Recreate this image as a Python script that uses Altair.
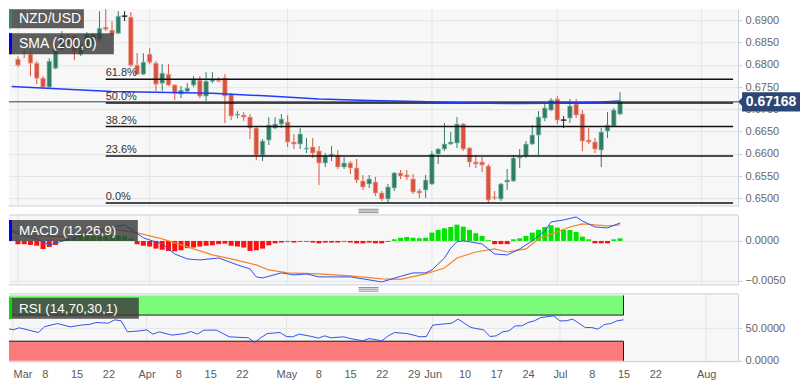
import altair as alt
import pandas as pd

FONT = "Liberation Sans"

# ---------------- data (trading-day index: 0 = Fri 1 Mar 2019) ----------------
day = list(range(97))
op = [
    0.68126, 0.68260, 0.68238, 0.68036, 0.67700, 0.67498, 0.67924, 0.68350, 0.68596, 0.68641,
    0.68238, 0.68372, 0.68462, 0.68574, 0.68843, 0.68776, 0.68709, 0.69090, 0.69067, 0.67991,
    0.67789, 0.68238, 0.68036, 0.67587, 0.67789, 0.67543, 0.67341, 0.67408, 0.67543, 0.67655,
    0.67296, 0.67632, 0.67655, 0.67700, 0.67341, 0.66870, 0.66870, 0.66825, 0.66579, 0.65973,
    0.66310, 0.66579, 0.66668, 0.66713, 0.66265, 0.66220, 0.66108, 0.66153, 0.66063, 0.65794,
    0.65951, 0.65973, 0.65704, 0.65794, 0.65682, 0.65390, 0.65323, 0.65368, 0.65121, 0.64987,
    0.65233, 0.65570, 0.65525, 0.65435, 0.65166, 0.65189, 0.65323, 0.65996, 0.66108, 0.66220,
    0.66243, 0.66668, 0.66130, 0.65816, 0.65816, 0.65727, 0.65032, 0.64987, 0.65368, 0.65390,
    0.65906, 0.65951, 0.66220, 0.66422, 0.66803, 0.66982, 0.67229, 0.66758, 0.66803, 0.67117,
    0.66893, 0.66310, 0.66265, 0.66085, 0.66511, 0.66623, 0.66893,
]
hi = [
    0.68190, 0.68328, 0.68305, 0.68081, 0.67744, 0.68148, 0.68440, 0.68753, 0.68686, 0.68686,
    0.68530, 0.68731, 0.68709, 0.69202, 0.69390, 0.68978, 0.69202, 0.69202, 0.69179, 0.68260,
    0.68260, 0.68372, 0.68081, 0.68013, 0.68013, 0.67565, 0.67520, 0.67587, 0.67744, 0.67744,
    0.67834, 0.67834, 0.67722, 0.67789, 0.67363, 0.66960, 0.66937, 0.66893, 0.66601, 0.66332,
    0.66825, 0.66825, 0.66893, 0.66870, 0.66444, 0.66579, 0.66354, 0.66354, 0.66175, 0.66018,
    0.66175, 0.66085, 0.65928, 0.65839, 0.65884, 0.65525, 0.65525, 0.65480, 0.65166, 0.65323,
    0.65592, 0.65637, 0.65637, 0.65547, 0.65211, 0.65525, 0.66063, 0.66130, 0.66691, 0.66489,
    0.66825, 0.66691, 0.66153, 0.65973, 0.65928, 0.65771, 0.65166, 0.65345, 0.65659, 0.65973,
    0.66108, 0.66287, 0.66646, 0.66960, 0.67139, 0.67251, 0.67296, 0.66848, 0.67229, 0.67229,
    0.66982, 0.66579, 0.66354, 0.66579, 0.66937, 0.67027, 0.67386,
]
lo = [
    0.67946, 0.68148, 0.67744, 0.67565, 0.67453, 0.67475, 0.67901, 0.68305, 0.68439, 0.68103,
    0.68193, 0.68350, 0.68440, 0.68529, 0.68753, 0.68641, 0.68686, 0.68978, 0.67946, 0.67767,
    0.67767, 0.68013, 0.67408, 0.67408, 0.67520, 0.67206, 0.67251, 0.67386, 0.67498, 0.67251,
    0.67184, 0.67587, 0.67610, 0.66691, 0.66758, 0.66803, 0.66736, 0.66332, 0.65861, 0.65839,
    0.66198, 0.66556, 0.66579, 0.66153, 0.66108, 0.66108, 0.66018, 0.65906, 0.65300, 0.65704,
    0.65839, 0.65659, 0.65659, 0.65547, 0.65345, 0.65189, 0.65233, 0.65054, 0.64942, 0.64897,
    0.65166, 0.65435, 0.65413, 0.65099, 0.65009, 0.65009, 0.65300, 0.65771, 0.66063, 0.66198,
    0.66130, 0.66063, 0.65704, 0.65682, 0.65592, 0.64897, 0.64964, 0.64942, 0.65189, 0.65368,
    0.65682, 0.65906, 0.66198, 0.65973, 0.66736, 0.66960, 0.66668, 0.66579, 0.66691, 0.66803,
    0.66063, 0.66220, 0.66018, 0.65704, 0.66354, 0.66601, 0.66870,
]
cl = [
    0.67991, 0.68248, 0.68036, 0.67700, 0.67498, 0.68081, 0.68350, 0.68641, 0.68484, 0.68305,
    0.68462, 0.68686, 0.68686, 0.68821, 0.68798, 0.68686, 0.69090, 0.69090, 0.67991, 0.67789,
    0.68058, 0.68058, 0.67565, 0.67812, 0.67543, 0.67363, 0.67430, 0.67475, 0.67677, 0.67296,
    0.67632, 0.67677, 0.67632, 0.67296, 0.66848, 0.66893, 0.66825, 0.66579, 0.65973, 0.66287,
    0.66646, 0.66668, 0.66780, 0.66265, 0.66220, 0.66444, 0.66130, 0.66018, 0.65794, 0.65951,
    0.65996, 0.65704, 0.65794, 0.65682, 0.65413, 0.65256, 0.65435, 0.65121, 0.64987, 0.65256,
    0.65570, 0.65502, 0.65480, 0.65144, 0.65121, 0.65413, 0.65996, 0.66108, 0.66220, 0.66265,
    0.66668, 0.66108, 0.65816, 0.65771, 0.65749, 0.64964, 0.65009, 0.65323, 0.65413, 0.65906,
    0.65928, 0.66220, 0.66422, 0.66825, 0.67027, 0.67206, 0.66758, 0.66758, 0.67072, 0.66870,
    0.66287, 0.66265, 0.66108, 0.66489, 0.66646, 0.66982, 0.67168,
]

sma_day = [-1, 15, 31, 40, 48, 56, 64, 72, 80, 88, 93, 96]
sma_val = [0.67510, 0.67397, 0.67363, 0.67296, 0.67233, 0.67195, 0.67173, 0.67139, 0.67128, 0.67139, 0.67162, 0.67184]

last_price = [0.67168]
last_label = ["0.67168"]

fib_pct = ["0.0%", "23.6%", "38.2%", "50.0%", "61.8%", "100.0%"]
fib_val = [0.64897, 0.65951, 0.66612, 0.67139, 0.67677, 0.69392]
fib_from = 14

macd_day = [-2, 0, 3, 5, 6, 9, 12, 15, 17, 20, 23, 25, 27, 29, 32, 35, 37, 38, 39, 42,
            44, 46, 48, 53, 55, 58, 61, 63, 65, 66, 68, 69, 70, 71, 72, 74, 76, 78, 80, 82,
            84, 85, 87, 89, 90, 92, 94, 96]
macd_val = [0.00166, 0.00088, 0.00025, -0.0005, -0.00025, 0.00038, 0.00125, 0.00175, 0.002, 0.00038,
            -0.00038, -0.00163, -0.00225, -0.00238, -0.00213, -0.003, -0.0035, -0.0045, -0.00463, -0.004,
            -0.00425, -0.00413, -0.0045, -0.0045, -0.00475, -0.00513, -0.00444, -0.004, -0.004, -0.00363,
            -0.00213, -0.0009, -0.0001, 0.0, -0.0001, -0.00038, -0.00163, -0.00175, -0.001, 0.0,
            0.00125, 0.00238, 0.00263, 0.003, 0.0025, 0.00175, 0.00163, 0.00225]
sig_day = [-2, 3, 8, 12, 16, 19, 23, 28, 31, 34, 38, 40, 43, 48, 53, 58, 61, 65, 68, 70,
           73, 76, 78, 81, 83, 86, 88, 90, 94, 96]
sig_val = [0.0015, 0.00063, 0.0005, 0.00113, 0.00138, 0.001, 0.00025, -0.001, -0.00175, -0.00225,
           -0.003, -0.00363, -0.004, -0.00413, -0.00438, -0.00475, -0.00481, -0.00413, -0.00338, -0.00213,
           -0.00138, -0.001, -0.00138, -0.001, 0.00025, 0.00113, 0.00175, 0.00213, 0.00188, 0.002]
hist_val = [
    -0.0004, -0.0004, -0.0005, -0.0006, -0.0010, -0.00075, -0.0005, 0.0001, 0.0003, 0.0005,
    0.0006, 0.0006, 0.0006, 0.0006, 0.0006, 0.0007, 0.0007, 0.0006, 0.0003, -0.0004,
    -0.0006, -0.0007, -0.00096, -0.0011, -0.00125, -0.0013, -0.00117, -0.0009, -0.00083, -0.0007,
    -0.0006, -0.00054, -0.0004, -0.00033, -0.0006, -0.0007, -0.00083, -0.00125, -0.00117, -0.00096,
    -0.00054, -0.0003, -0.0002, -0.0001, -0.0002, -0.0001, -0.0001, -0.0002, -0.0003, -0.0002,
    -0.0002, -0.0002, -0.0001, -0.0002, -0.0003, -0.0003, -0.0002, -0.0003, -0.0003, -0.0001,
    0.0002, 0.0004, 0.0005, 0.0004, 0.00033, 0.0004, 0.00104, 0.00138, 0.00158, 0.00175,
    0.00204, 0.00179, 0.00138, 0.00096, 0.00063, 0.0001, -0.0004, -0.0004, -0.0004, 0.0002,
    0.00033, 0.00063, 0.00104, 0.00138, 0.00175, 0.00196, 0.00167, 0.00138, 0.00138, 0.00113,
    0.00054, 0.0002, -0.0003, -0.0003, -0.0003, 0.0002, 0.00033,
]

rsi_day = [-2, 0, 1, 4, 5, 7, 9, 11, 12, 13, 15, 16, 17, 18, 20, 21, 22, 23, 25, 27,
           28, 29, 30, 32, 34, 37, 38, 39, 40, 42, 43, 44, 45, 47, 48, 49, 50, 52, 53, 55,
           56, 58, 59, 60, 62, 64, 65, 66, 69, 70, 72, 74, 75, 76, 77, 78, 79, 80, 81, 82,
           83, 85, 86, 87, 88, 90, 91, 92, 93, 94, 95, 96]
rsi_val = [52.4, 47.4, 50.5, 43.3, 52.4, 57.0, 52.0, 55.0, 55.5, 58.6, 57.6, 62.7, 61.2, 44.3, 45.9, 47.4, 40.8, 44.3, 39.3, 41.7,
           44.8, 40.8, 46.9, 46.9, 36.7, 35.2, 28.0, 35.6, 41.7, 43.3, 37.2, 36.7, 40.8, 37.2, 34.7, 38.2, 35.2, 36.7, 34.1, 30.6,
           34.1, 30.6, 38.2, 43.3, 41.7, 36.7, 37.2, 54.6, 57.6, 63.8, 50.9, 47.4, 37.2, 38.2, 44.3, 45.9, 53.5, 53.5, 58.6, 61.2,
           66.2, 68.8, 61.2, 61.2, 63.8, 50.9, 50.9, 48.5, 55.5, 57.0, 61.2, 62.7]
rsi_zone = ["ob", "os"]
rsi_zone_lo = [70, 0]
rsi_zone_hi = [100, 30]
rsi_zone_from = -2
rsi_zone_to = 96

month_day = [0, 21, 43, 66, 86, 109]
tick_day = [0, 5, 10, 15, 21, 26, 31, 36, 43, 48, 53, 58, 63, 66, 71, 76, 81, 86, 91, 96, 101, 109]
tick_lab = ["Mar", "8", "15", "22", "Apr", "8", "15", "22", "May", "8", "15", "22", "29",
            "Jun", "10", "17", "24", "Jul", "8", "15", "22", "Aug"]

price_ticks = [0.6500, 0.6550, 0.6600, 0.6650, 0.6700, 0.6750, 0.6800, 0.6850, 0.6900]
macd_ticks = [-0.0050, 0.0]
rsi_ticks = [0.0, 50.0]

panel_titles = ["NZD/USD", "SMA (200,0)", "MACD (12,26,9)", "RSI (14,70,30,1)"]

# ---------------- layout ----------------
W = 730
H_MAIN, H_MACD, H_RSI = 197, 70, 68
X_DOM = [-0.63, 114.02]
BORDER = "#c9cfdf"
GRID = "#e5e5e5"

xs = alt.Scale(domain=X_DOM, nice=False, zero=False)
ys_main = alt.Scale(domain=[0.648296, 0.692466], nice=False, zero=False)
ys_macd = alt.Scale(domain=[-0.0055, 0.00325], nice=False, zero=False)
ys_rsi = alt.Scale(domain=[-1.53, 102.45], nice=False, zero=False)


def yaxis(vals):
    return alt.Axis(orient="right", values=vals, format=".4f", title=None, grid=True,
                    gridColor=GRID, gridWidth=1, domainColor=BORDER, tickColor=BORDER,
                    tickSize=4, labelPadding=3, labelFontSize=11, labelColor="#666666",
                    labelFont=FONT)


ax_main = yaxis(price_ticks)
ax_macd = yaxis(macd_ticks)
ax_rsi = yaxis(rsi_ticks)

lab_expr = ("[" + ",".join("'%s'" % s for s in tick_lab) + "][indexof(["
            + ",".join(str(d) for d in tick_day) + "], datum.value)]")
ax_x = alt.Axis(values=tick_day, labelExpr=lab_expr, grid=False, domain=False, ticks=False,
                labelPadding=7, labelFontSize=11, labelColor="#5a5a5a", labelFont=FONT,
                labelFlush=False, labelOverlap=False, title=None,
                labelAlign={"condition": {"test": "datum.value == 0", "value": "left"}, "value": "center"})


def X(f, axis=None):
    if axis is None:
        return alt.X(f, type="quantitative", scale=xs, axis=None)
    return alt.X(f, type="quantitative", scale=xs, axis=axis)


def Ym(f):
    return alt.Y(f, type="quantitative", scale=ys_main, axis=ax_main)


def Yd(f):
    return alt.Y(f, type="quantitative", scale=ys_macd, axis=ax_macd)


def Yr(f):
    return alt.Y(f, type="quantitative", scale=ys_rsi, axis=ax_rsi)


one = pd.DataFrame({"k": [0]})


def tag_box(text, accent, w, y0, y1, fs):
    df = pd.DataFrame({"t": [text]})
    base = alt.Chart(df)
    box = base.mark_rect(color="#3a3a3a", opacity=0.82).encode(
        x=alt.value(0), x2=alt.value(w), y=alt.value(y0), y2=alt.value(y1))
    bar = base.mark_rect(color=accent).encode(
        x=alt.value(0), x2=alt.value(3), y=alt.value(y0), y2=alt.value(y1))
    txt = base.mark_text(align="left", baseline="middle", color="white", fontSize=fs, font=FONT).encode(
        x=alt.value(10), y=alt.value((y0 + y1) / 2 + 0.5), text="t:N")
    return [box, bar, txt]


def handle(ys):
    return [alt.Chart(one).mark_rule(color="#8a8a8a", strokeWidth=1).encode(
        x=alt.value(350), x2=alt.value(370), y=alt.value(v)) for v in ys]


def hborder(v):
    return alt.Chart(one).mark_rule(color=BORDER, strokeWidth=1).encode(
        x=alt.value(0), x2=alt.value(W), y=alt.value(v))


# ---------------- main panel ----------------
cand = pd.DataFrame({"day": day, "open": op, "high": hi, "low": lo, "close": cl})
cand["dir"] = ["up" if c > o else ("down" if c < o else "flat") for o, c in zip(op, cl)]
dir_scale = alt.Scale(domain=["up", "down", "flat"], range=["#2e7d68", "#d8533f", "#262626"])
edge_scale = alt.Scale(domain=["up", "down", "flat"], range=["#93c4b6", "#eea99c", "#262626"])
dcol = alt.Color("dir:N", scale=dir_scale, legend=None)

months = pd.DataFrame({"day": month_day})
sma = pd.DataFrame({"day": sma_day, "val": sma_val})
fib = pd.DataFrame({"pct": fib_pct, "val": fib_val, "x0": [fib_from] * len(fib_val),
                    "x1": [X_DOM[1]] * len(fib_val)})
fib_lab = fib[fib["pct"] != "100.0%"]
tag = pd.DataFrame({"p": last_price, "t": last_label})

m_grid = alt.Chart(months).mark_rule(color=GRID, strokeWidth=1).encode(x=X("day"))
m_wick = alt.Chart(cand).mark_rule(strokeWidth=1, clip=True).encode(
    x=X("day"), y=Ym("low"), y2="high", color=dcol)
m_body = alt.Chart(cand).mark_bar(size=4.5, strokeWidth=0.7, clip=True).encode(
    x=X("day"), y=Ym("open"), y2="close", color=dcol,
    stroke=alt.Stroke("dir:N", scale=edge_scale, legend=None))
m_doji = alt.Chart(cand).transform_filter("abs(datum.open - datum.close) < 0.00008").mark_tick(
    thickness=1.3, size=6, orient="horizontal", clip=True).encode(x=X("day"), y=Ym("close"), color=dcol)
m_fib = alt.Chart(fib).mark_rule(color="#111111", strokeWidth=1.5, clip=True).encode(
    x=X("x0"), x2="x1", y=Ym("val"))
m_fibt = alt.Chart(fib_lab).mark_text(align="left", baseline="alphabetic", dy=-3, fontSize=11,
                                      color="#333333", font=FONT, clip=True).encode(
    x=X("x0"), y=Ym("val"), text="pct:N")
m_price = alt.Chart(tag).mark_rule(color="#243a66", strokeWidth=1).encode(y=Ym("p"))
m_sma = alt.Chart(sma).mark_line(color="#1f3cff", strokeWidth=1.5, clip=True).encode(
    x=X("day"), y=Ym("val"))
tag_path = "M-1.14,0L-1,-0.14L-1,-0.33L1,-0.33L1,0.33L-1,0.33L-1,0.14Z"
m_tag = alt.Chart(tag).mark_point(shape=tag_path, size=3364, filled=True, color="#2c4676",
                                  opacity=1, strokeWidth=0).encode(x=alt.value(763), y=Ym("p"))
m_tagt = alt.Chart(tag).mark_text(align="center", baseline="middle", color="white", fontSize=14,
                                  fontWeight="bold", font=FONT).encode(
    x=alt.value(763), y=Ym("p"), text="t:N")

main_layers = [m_grid, m_wick, m_body, m_doji, m_price, m_fib, m_sma, m_fibt, hborder(H_MAIN)]
main_layers += tag_box(panel_titles[0], "#2e8a6f", 75, 0, 19, 14)
main_layers += tag_box(panel_titles[1], "#0000ff", 105, 24, 45, 14)
main_layers += [m_tag, m_tagt]
main = alt.layer(*main_layers).properties(width=W, height=H_MAIN)

# ---------------- MACD panel ----------------
hist = pd.DataFrame({"day": day, "h": hist_val})
hist["sg"] = ["pos" if v >= 0 else "neg" for v in hist_val]
macd_df = pd.DataFrame({"day": macd_day, "v": macd_val})
sig_df = pd.DataFrame({"day": sig_day, "v": sig_val})

d_grid = alt.Chart(months).mark_rule(color=GRID, strokeWidth=1).encode(x=X("day"))
d_hist = alt.Chart(hist).mark_bar(size=5, clip=True).encode(
    x=X("day"), y=Yd("h"), y2=alt.datum(0),
    color=alt.Color("sg:N", scale=alt.Scale(domain=["pos", "neg"], range=["#00e400", "#ff1010"]), legend=None))
d_sig = alt.Chart(sig_df).mark_line(color="#f5852a", strokeWidth=1.2, clip=True).encode(x=X("day"), y=Yd("v"))
d_macd = alt.Chart(macd_df).mark_line(color="#2f4ff0", strokeWidth=1, clip=True).encode(x=X("day"), y=Yd("v"))

macd_layers = [d_grid, d_hist, d_sig, d_macd, hborder(0), hborder(H_MACD)]
macd_layers += handle([-5.7, -4, -2.3])
macd_layers += tag_box(panel_titles[2], "#0000ff", 129, 5, 26, 13.5)
macd = alt.layer(*macd_layers).properties(width=W, height=H_MACD)

# ---------------- RSI panel ----------------
zones = pd.DataFrame({"zone": rsi_zone, "lo": rsi_zone_lo, "hi": rsi_zone_hi,
                      "x0": [rsi_zone_from] * 2, "x1": [rsi_zone_to] * 2})
edges = pd.DataFrame({"lvl": [rsi_zone_lo[0], rsi_zone_hi[1]], "x0": [rsi_zone_from] * 2,
                      "x1": [rsi_zone_to] * 2})
rsi_df = pd.DataFrame({"day": rsi_day, "v": rsi_val})

r_grid = alt.Chart(months).mark_rule(color=GRID, strokeWidth=1).encode(x=X("day", ax_x))
r_zone = alt.Chart(zones).mark_rect(clip=True, opacity=1).encode(
    x=X("x0", ax_x), x2="x1", y=Yr("lo"), y2="hi",
    color=alt.Color("zone:N", scale=alt.Scale(domain=["ob", "os"], range=["#7bfa7b", "#fb7b7b"]), legend=None))
r_hedge = alt.Chart(edges).mark_rule(color="#1a1a1a", strokeWidth=1, clip=True).encode(
    x=X("x0", ax_x), x2="x1", y=Yr("lvl"))
r_vedge = alt.Chart(zones).mark_rule(color="#1a1a1a", strokeWidth=1, clip=True).encode(
    x=X("x1", ax_x), y=Yr("lo"), y2="hi")
r_line = alt.Chart(rsi_df).mark_line(color="#3552e8", strokeWidth=1, clip=True).encode(
    x=X("day", ax_x), y=Yr("v"))

rsi_layers = [r_grid, r_zone, r_hedge, r_vedge, r_line, hborder(0), hborder(H_RSI)]
rsi_layers += handle([-6.3, -4.7, -2.7])
rsi_layers += tag_box(panel_titles[3], "#00e000", 130, 4, 25, 13.5)
rsi = alt.layer(*rsi_layers).properties(width=W, height=H_RSI)

chart = alt.vconcat(main, macd, rsi, spacing=9, bounds="flush").resolve_scale(
    color="independent", stroke="independent"
).properties(
    padding={"left": 0, "top": 0, "right": 0, "bottom": 0}
).configure(font=FONT).configure_view(fill="#f7f7f7", strokeWidth=0)

chart.save("out.html", embed_options={"renderer": "svg", "actions": False})
